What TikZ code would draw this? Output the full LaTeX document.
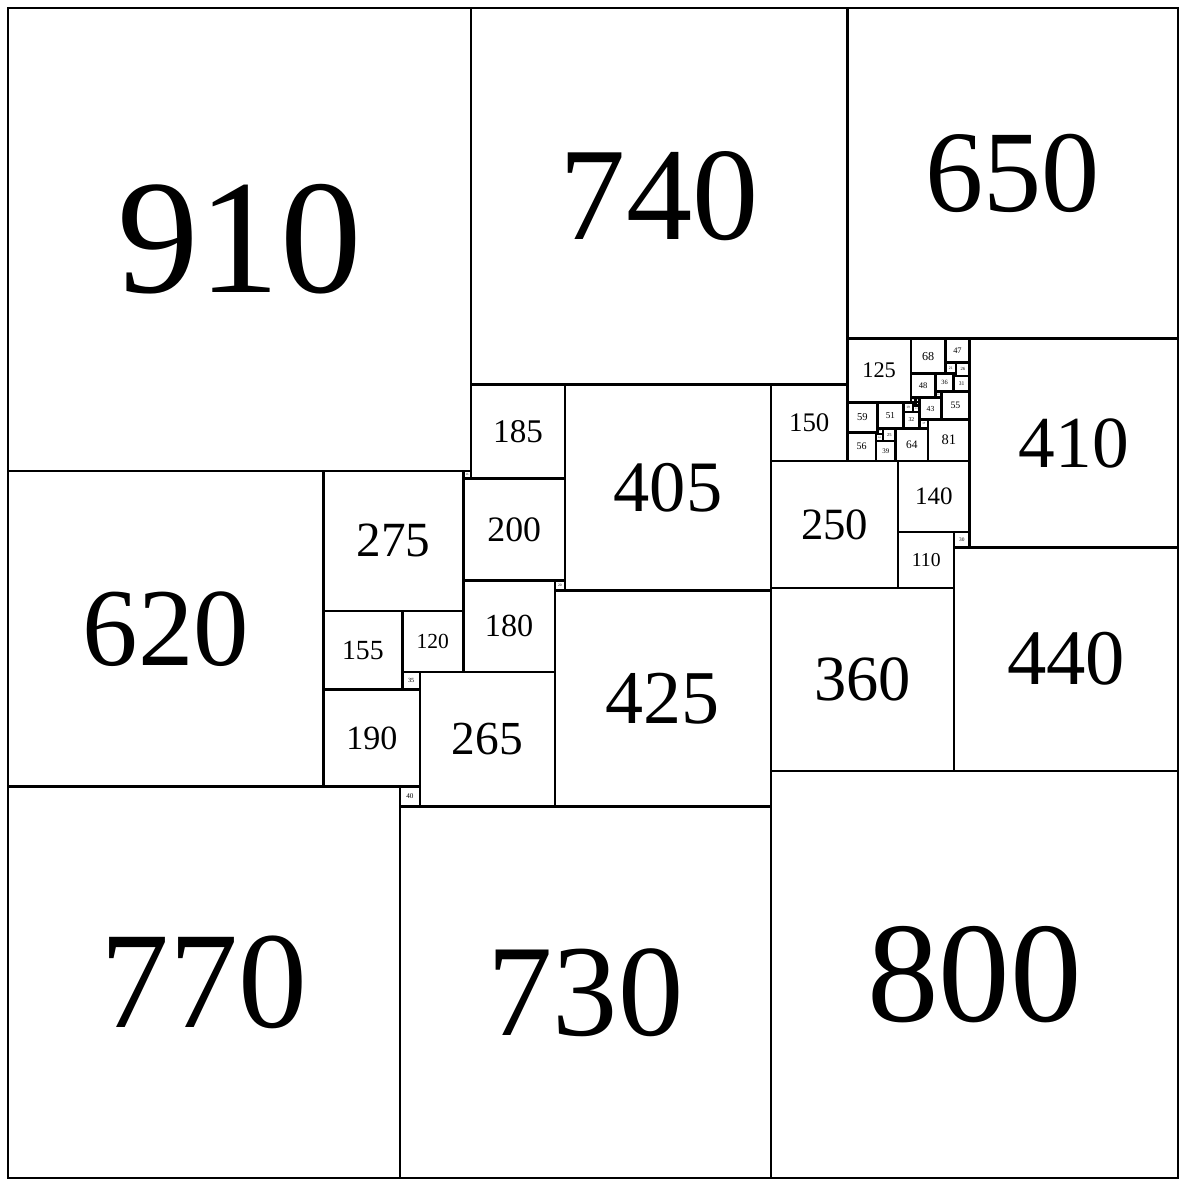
\documentclass[tikz,border=0pt]{standalone}
\usepackage{fontspec}
\setmainfont{Liberation Serif}

\begin{document}
\begin{tikzpicture}[x=0.01cm,y=-0.01cm,
  sq/.style={draw,line width=1.4pt},
  lbl/.style={inner sep=0pt},
]
  \useasboundingbox (-16,-16) rectangle (2302,2304);
  % side/left/top of each square, y running down
  \foreach \s/\x/\y in {910/0/0, 740/910/0, 650/1650/0, 620/0/910, 770/0/1530,
      730/770/1570, 800/1500/1500, 410/1890/650, 440/1860/1060,
      185/910/740, 405/1095/740, 150/1500/740, 275/620/910, 15/895/910,
      200/895/925, 20/1075/1125, 180/895/1125, 425/1075/1145,
      155/620/1185, 120/775/1185, 35/775/1305, 190/620/1340, 265/810/1305,
      40/770/1530, 250/1500/890, 140/1750/890, 110/1750/1030, 30/1860/1030,
      360/1500/1140} {
    \pgfmathsetmacro\fs{0.1*\s}
    \draw[sq] (\x,\y) rectangle ++(\s,\s);
    \node[lbl,font=\fontsize{\fs pt}{\fs pt}\selectfont] (q\s) at ({\x+\s/2},{\y+\s/2}) {\s};
  }
  % the little corner under 650
  \foreach \s/\x/\y in {125/1650/650, 68/1775/650, 47/1843/650, 21/1843/697,
      26/1864/697, 48/1775/718, 36/1823/718, 5/1859/718, 31/1859/723,
      12/1823/754, 55/1835/754, 43/1792/766, 9/1775/766, 8/1784/766,
      1/1784/774, 7/1785/774, 6/1779/775, 13/1779/781, 19/1760/775,
      59/1650/775, 51/1709/775, 32/1760/794, 17/1792/809, 81/1809/809,
      64/1745/826, 25/1720/826, 11/1709/826, 3/1706/834, 14/1706/837,
      56/1650/834, 39/1706/851} {
    \pgfmathsetmacro\fs{0.1*\s}
    \draw[sq] (\x,\y) rectangle ++(\s,\s);
    \node[lbl,font=\fontsize{\fs pt}{\fs pt}\selectfont] (q\s) at ({\x+\s/2},{\y+\s/2}) {\s};
  }
\end{tikzpicture}
\end{document}
